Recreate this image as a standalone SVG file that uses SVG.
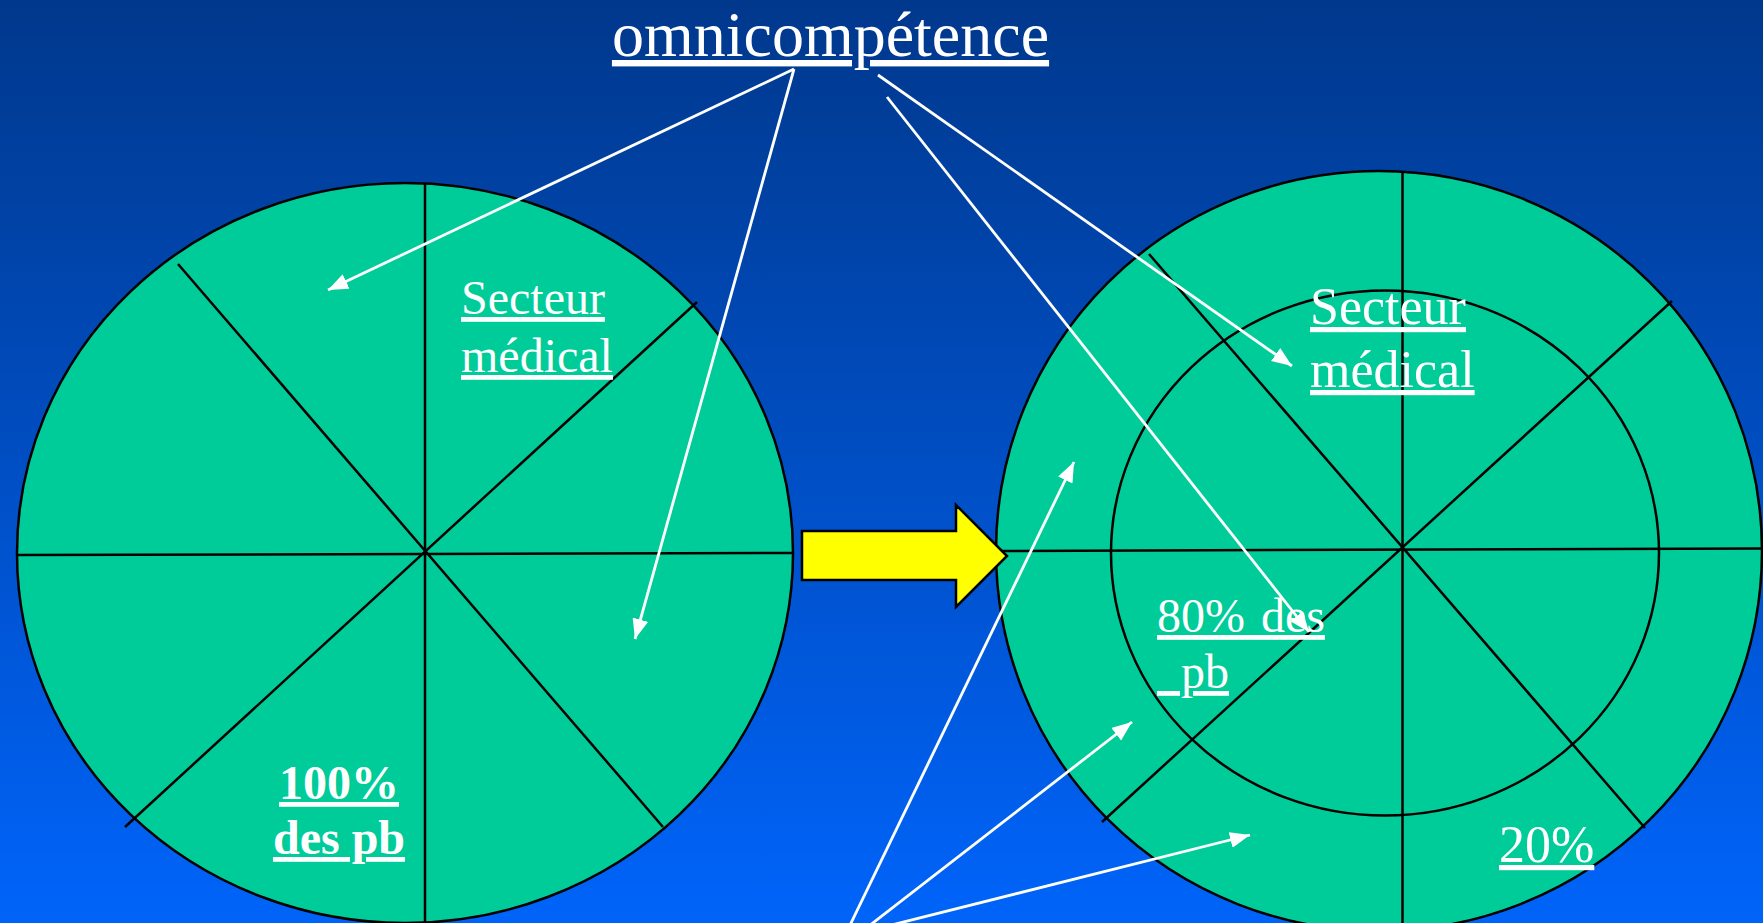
<svg xmlns="http://www.w3.org/2000/svg" width="1763" height="923" viewBox="0 0 1763 923">
<defs>
<linearGradient id="bg" x1="0" y1="0" x2="0" y2="1">
<stop offset="0" stop-color="#00388C"/>
<stop offset="1" stop-color="#0064FA"/>
</linearGradient>
<marker id="ah" markerUnits="userSpaceOnUse" markerWidth="22" markerHeight="20" refX="20" refY="8" orient="auto">
<path d="M0,0 L20,8 L0,16 Z" fill="#FFFFFF"/>
</marker>
<style>
.disc{fill:#00CC99;stroke:#000;stroke-width:2.5}
.spoke{stroke:#000;stroke-width:2.5;fill:none}
.wam{stroke:#FFFFFF;stroke-width:2.8;fill:none;marker-end:url(#ah)}
.t{font-family:"Liberation Serif","Times New Roman",serif;fill:#FFFFFF;text-decoration:underline}
</style>
</defs>
<rect x="0" y="0" width="1763" height="923" fill="url(#bg)"/>

<g id="left-disc">
<ellipse class="disc" cx="405" cy="553" rx="388" ry="370"/>
<line class="spoke" x1="425" y1="183" x2="425" y2="923"/>
<line class="spoke" x1="17" y1="555" x2="793" y2="553"/>
<line class="spoke" x1="178" y1="264" x2="663" y2="827"/>
<line class="spoke" x1="697" y1="302" x2="125" y2="827"/>
<text class="t" x="461" y="314" font-size="48">Secteur</text>
<text class="t" x="461" y="372" font-size="48">médical</text>
<text class="t" x="339" y="799" font-size="48" font-weight="bold" text-anchor="middle">100%</text>
<text class="t" x="339" y="854" font-size="48" font-weight="bold" text-anchor="middle">des pb</text>
</g>

<g id="right-disc">
<ellipse class="disc" cx="1379" cy="551" rx="383" ry="380"/>
<ellipse class="disc" cx="1385" cy="553" rx="274" ry="262.5"/>
<line class="spoke" x1="1402.5" y1="171" x2="1402.5" y2="923"/>
<line class="spoke" x1="997" y1="551" x2="1763" y2="548.5"/>
<line class="spoke" x1="1149" y1="254" x2="1645" y2="828"/>
<line class="spoke" x1="1672" y1="301" x2="1102" y2="822"/>
<text class="t" x="1310" y="324" font-size="52">Secteur</text>
<text class="t" x="1310" y="387" font-size="52">médical</text>
<text class="t" x="1157" y="632" font-size="48" xml:space="preserve" word-spacing="4">80% des</text>
<text class="t" x="1157" y="688" font-size="48" xml:space="preserve">  pb</text>
<text class="t" x="1499" y="862" font-size="52">20%</text>
</g>

<g id="big-arrow">
<path d="M802,531 L956,531 L956,505 L1007,556 L956,607 L956,580 L802,580 Z" fill="#FFFF00" stroke="#000" stroke-width="2.5" stroke-linejoin="miter"/>
</g>

<g id="title">
<text class="t" x="830.5" y="56" font-size="64" text-anchor="middle">omnicompétence</text>
</g>

<g id="connectors">
<line class="wam" x1="794" y1="69" x2="328" y2="290"/>
<line class="wam" x1="794" y1="69" x2="635" y2="639"/>
<line class="wam" x1="878" y1="75" x2="1292" y2="366"/>
<line class="wam" x1="887" y1="97" x2="1309" y2="632"/>
<line class="wam" x1="838" y1="950" x2="1074" y2="462"/>
<line class="wam" x1="838" y1="950" x2="1132" y2="722"/>
<line class="wam" x1="792" y1="950" x2="1250" y2="835"/>
</g>
</svg>
